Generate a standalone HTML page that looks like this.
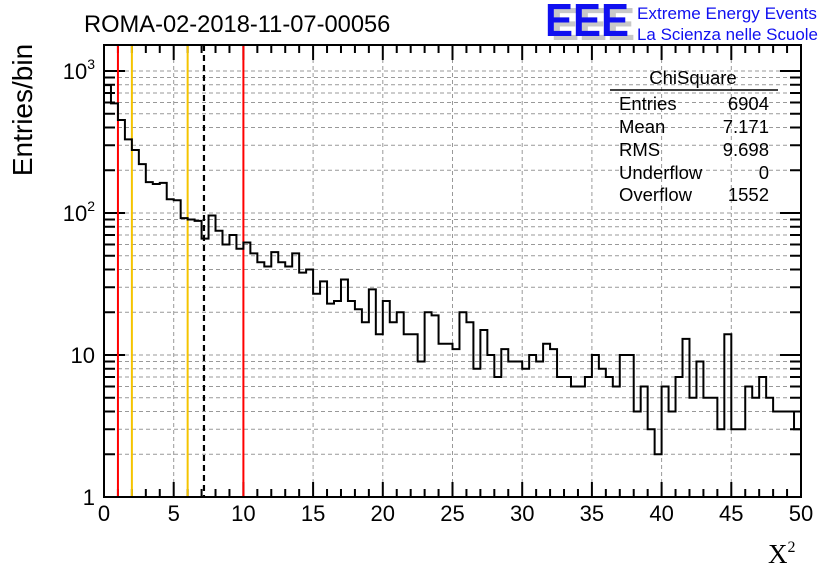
<!DOCTYPE html>
<html><head><meta charset="utf-8"><style>
body{margin:0;background:#fff;}
svg{display:block;font-family:"Liberation Sans",sans-serif;}
</style></head><body>
<svg id="chart" width="836" height="572" xmlns="http://www.w3.org/2000/svg">
<rect width="836" height="572" fill="#fff"/>
<text x="84" y="32" font-size="23.7">ROMA-02-2018-11-07-00056</text>
<g>
<text x="551" y="40" font-size="46" font-weight="bold" fill="#c8c8c8" textLength="84" lengthAdjust="spacingAndGlyphs">EEE</text>
<text x="545" y="36" font-size="46" font-weight="bold" fill="#1010f0" textLength="84" lengthAdjust="spacingAndGlyphs">EEE</text>
<text x="637" y="19" font-size="17" fill="#1010f0" textLength="180" lengthAdjust="spacingAndGlyphs">Extreme Energy Events</text>
<text x="637" y="40" font-size="17" fill="#1010f0" textLength="181" lengthAdjust="spacingAndGlyphs">La Scienza nelle Scuole</text>
</g>
<g id="grid"></g><g id="ticks"></g><g id="marks"></g><g id="hist"></g>
<rect x="104" y="45" width="697" height="452" fill="none" stroke="#000" stroke-width="2"/>
<text transform="translate(32,110) rotate(-90)" font-size="28" text-anchor="middle">Entries/bin</text>
<text x="768" y="563" font-size="27" font-family="Liberation Serif,serif">X<tspan font-size="16" dy="-11">2</tspan></text>
<g font-size="18.5">
<text x="693" y="84" text-anchor="middle">ChiSquare</text>
<line x1="610" y1="90" x2="778" y2="90" stroke="#000" stroke-width="1.5"/>
<text x="619" y="110">Entries</text><text x="769" y="110" text-anchor="end">6904</text>
<text x="619" y="133">Mean</text><text x="769" y="133" text-anchor="end">7.171</text>
<text x="619" y="156">RMS</text><text x="769" y="156" text-anchor="end">9.698</text>
<text x="619" y="179">Underflow</text><text x="769" y="179" text-anchor="end">0</text>
<text x="619" y="201">Overflow</text><text x="769" y="201" text-anchor="end">1552</text>
</g>
</svg>
<script>
const counts=[795,592,452,330,278,221,165,160,163,125,123,92,90,88,66,96,75,60,70,56,62,52,45,42,53,45,42,52,38,40,27,33,23,24,34,24,21,17,29,14,24,17,20,14,14,9,20,19,12,12,11,20,17,8,15,10,7,11,9,9,8,10,9,12,11,7,7,6,6,7,10,8,7,6,10,10,4,6,3,2,6,4,7,13,5,9,5,5,3,14,3,3,6,5,7,5,4,4,4,3];
const binWidth=0.5;
const xTicks=[0,5,10,15,20,25,30,35,40,45,50];
const cutLines=[{v:1,c:"#f00"},{v:2,c:"#f5c400"},{v:6,c:"#f5c400"},{v:10,c:"#f00"}];
const meanValue=7.171;
const NS="http://www.w3.org/2000/svg";
const X0=104,X1=801,Y0=497,Y1=45,DEC=142;
const xs=v=>X0+(v/50)*(X1-X0);
const ys=v=>Y0-Math.log10(v)*DEC;
function mk(p,tag,at){const e=document.createElementNS(NS,tag);for(const k in at)e.setAttribute(k,at[k]);p.appendChild(e);return e;}
const grid=document.getElementById('grid'),ticks=document.getElementById('ticks'),marks=document.getElementById('marks'),hist=document.getElementById('hist');
xTicks.forEach(t=>{const x=xs(t);
 if(t>0&&t<50){const g=mk(grid,'line',{x1:x,x2:x,y1:Y1,y2:Y0,stroke:'#999','stroke-dasharray':'4,3','stroke-width':1});
 
 }
 const lb=mk(ticks,'text',{x:x,y:521,'font-size':22,'text-anchor':'middle'});lb.textContent=t;
 
 
});
for(let v=0;v<=50;v++){const x=xs(v);const L=v%5===0?15:8;
 mk(ticks,'line',{x1:x,x2:x,y1:Y0,y2:Y0-L,stroke:'#000','stroke-width':2});
 mk(ticks,'line',{x1:x,x2:x,y1:Y1,y2:Y1+L,stroke:'#000','stroke-width':2});}
for(let d=0;d<4;d++){for(let m=1;m<10;m++){const v=m*Math.pow(10,d);const y=ys(v);if(y<Y1)continue;
 if(!(d===0&&m===1)){const g=mk(grid,'line',{x1:X0,x2:X1,y1:y,y2:y,stroke:'#999','stroke-dasharray':'4,3','stroke-width':1});
 
 }
 const L=m===1?21:11;
 mk(ticks,'line',{x1:X0,x2:X0+L,y1:y,y2:y,stroke:'#000','stroke-width':2});
 mk(ticks,'line',{x1:X1,x2:X1-L,y1:y,y2:y,stroke:'#000','stroke-width':2});}}
const yl=[["1",""],["10",""],["10","2"],["10","3"]];
yl.forEach((l,i)=>{const y=ys(Math.pow(10,i));const t=mk(ticks,'text',{x:95,y:y+8,'font-size':22,'text-anchor':'end'});
 
 
 if(l[1]){t.innerHTML=l[0]+'<tspan font-size="14" dy="-10">'+l[1]+'</tspan>';}else t.textContent=l[0];});
cutLines.forEach(c=>{const x=xs(c.v);const e=mk(marks,'line',{x1:x,x2:x,y1:Y1,y2:Y0,stroke:c.c,'stroke-width':2});
 
 });
const mx=xs(meanValue);const ml=mk(marks,'line',{x1:mx,x2:mx,y1:Y1,y2:Y0,stroke:'#000','stroke-width':2.2,'stroke-dasharray':'6,4'});


let d='M'+xs(0)+','+Y0;
counts.forEach((c,i)=>{const y=ys(c);d+=' L'+xs(i*binWidth)+','+y+' L'+xs((i+1)*binWidth)+','+y;});
d+=' L'+xs(counts.length*binWidth)+','+ys(counts[counts.length-1]);
const h=mk(hist,'path',{d:d,fill:'none',stroke:'#000','stroke-width':2});


</script>
</body></html>
